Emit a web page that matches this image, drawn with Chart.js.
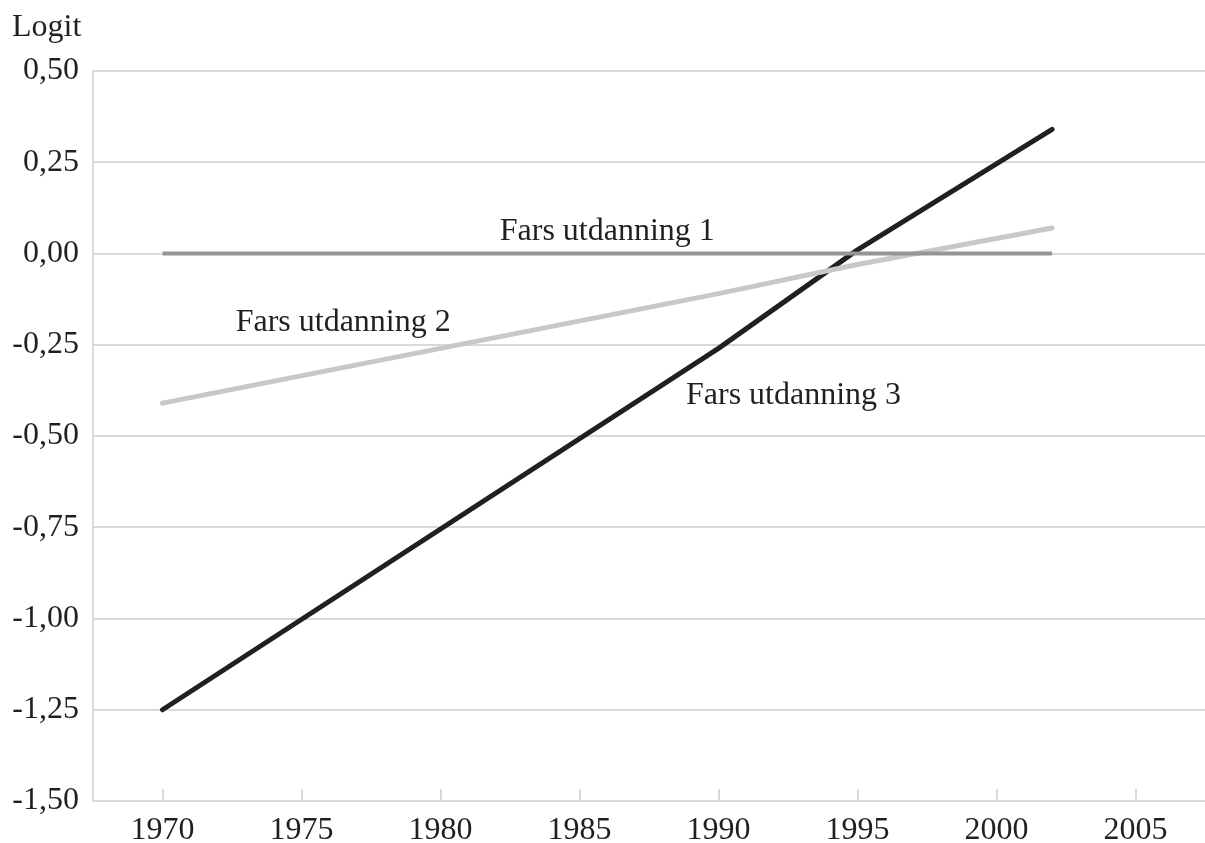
<!DOCTYPE html>
<html>
<head>
<meta charset="utf-8">
<script src="https://cdn.jsdelivr.net/npm/chart.js@4/dist/chart.umd.min.js"></script>
<style>
	html, body { margin: 0; padding: 0; background: #fff; }
	#wrap { position: relative; width: 1205px; height: 843px; }
	#ylabel { position: absolute; left: 12px; top: 9px; font: 32px/1 "Liberation Serif", serif; color: #231f20; }
</style>
</head>
<body>
<div id="wrap">
	<div id="ylabel">Logit</div>
	<canvas id="chart" width="1205" height="843"></canvas>
</div>
<script>
const years = [1970, 1990, 1995, 2002];
const fars1 = [0, 0, 0, 0];
const fars2 = [-0.41, -0.11, -0.03, 0.07];
const fars3 = [-1.25, -0.26, 0.01, 0.34];
const xTicks = [1970, 1975, 1980, 1985, 1990, 1995, 2000, 2005];
const seriesLabels = ["Fars utdanning 1", "Fars utdanning 2", "Fars utdanning 3"];
// where the text labels sit, in data units
const labelPos = [[1986.0, 0.06], [1976.5, -0.19], [1992.7, -0.39]];

const font = "Liberation Serif";
const ink = "#231f20";
const gridColor = "#d9d9d9";

function toPoints(values) {
	return years.map((year, i) => ({ x: year, y: values[i] }));
}

// small tick marks pointing up from the x axis, plus the series labels
const extrasPlugin = {
	id: "extras",
	afterDraw(chart) {
		const ctx = chart.ctx;
		const x = chart.scales.x;
		const y = chart.scales.y;
		ctx.save();
		ctx.strokeStyle = gridColor;
		ctx.lineWidth = 2;
		xTicks.forEach((t) => {
			const px = Math.round(x.getPixelForValue(t));
			ctx.beginPath();
			ctx.moveTo(px, y.bottom);
			ctx.lineTo(px, y.bottom - 12);
			ctx.stroke();
		});
		ctx.fillStyle = ink;
		ctx.font = "32px '" + font + "'";
		ctx.textAlign = "center";
		ctx.textBaseline = "middle";
		seriesLabels.forEach((text, i) => {
			ctx.fillText(text, x.getPixelForValue(labelPos[i][0]), y.getPixelForValue(labelPos[i][1]));
		});
		ctx.restore();
	},
};

const ctx = document.getElementById("chart").getContext("2d");
new Chart(ctx, {
	type: "line",
	data: {
		datasets: [
			{
				label: seriesLabels[0],
				data: toPoints(fars1),
				borderColor: "#939598",
				borderWidth: 4,
				borderCapStyle: "butt",
				pointRadius: 0,
				tension: 0,
			},
			{
				label: seriesLabels[1],
				data: toPoints(fars2),
				borderColor: "#c8c8c8",
				borderWidth: 5,
				borderCapStyle: "round",
				borderJoinStyle: "round",
				pointRadius: 0,
				tension: 0,
			},
			{
				label: seriesLabels[2],
				data: toPoints(fars3),
				borderColor: ink,
				borderWidth: 5,
				borderCapStyle: "round",
				borderJoinStyle: "round",
				pointRadius: 0,
				tension: 0,
			},
		],
	},
	options: {
		responsive: false,
		animation: false,
		layout: { padding: { top: 71, right: 0, left: 0, bottom: 0 } },
		plugins: { legend: { display: false }, tooltip: { enabled: false } },
		scales: {
			x: {
				type: "linear",
				min: 1967.5,
				max: 2007.5,
				afterBuildTicks: (scale) => {
					scale.ticks = xTicks.map((v) => ({ value: v }));
				},
				afterFit: (scale) => {
					scale.height = 42;
				},
				grid: { display: false },
				border: { display: true, color: gridColor, width: 2 },
				ticks: {
					color: ink,
					font: { family: font, size: 32 },
					padding: 2,
					maxRotation: 0,
					callback: (v) => String(v),
				},
			},
			y: {
				min: -1.5,
				max: 0.5,
				afterFit: (scale) => {
					scale.width = 93;
				},
				grid: { color: gridColor, lineWidth: 2, drawTicks: false },
				border: { display: true, color: gridColor, width: 2 },
				ticks: {
					stepSize: 0.25,
					color: ink,
					font: { family: font, size: 32 },
					padding: 14,
					callback: (v) => v.toFixed(2).replace(".", ","),
				},
			},
		},
	},
	plugins: [extrasPlugin],
});
</script>
</body>
</html>
